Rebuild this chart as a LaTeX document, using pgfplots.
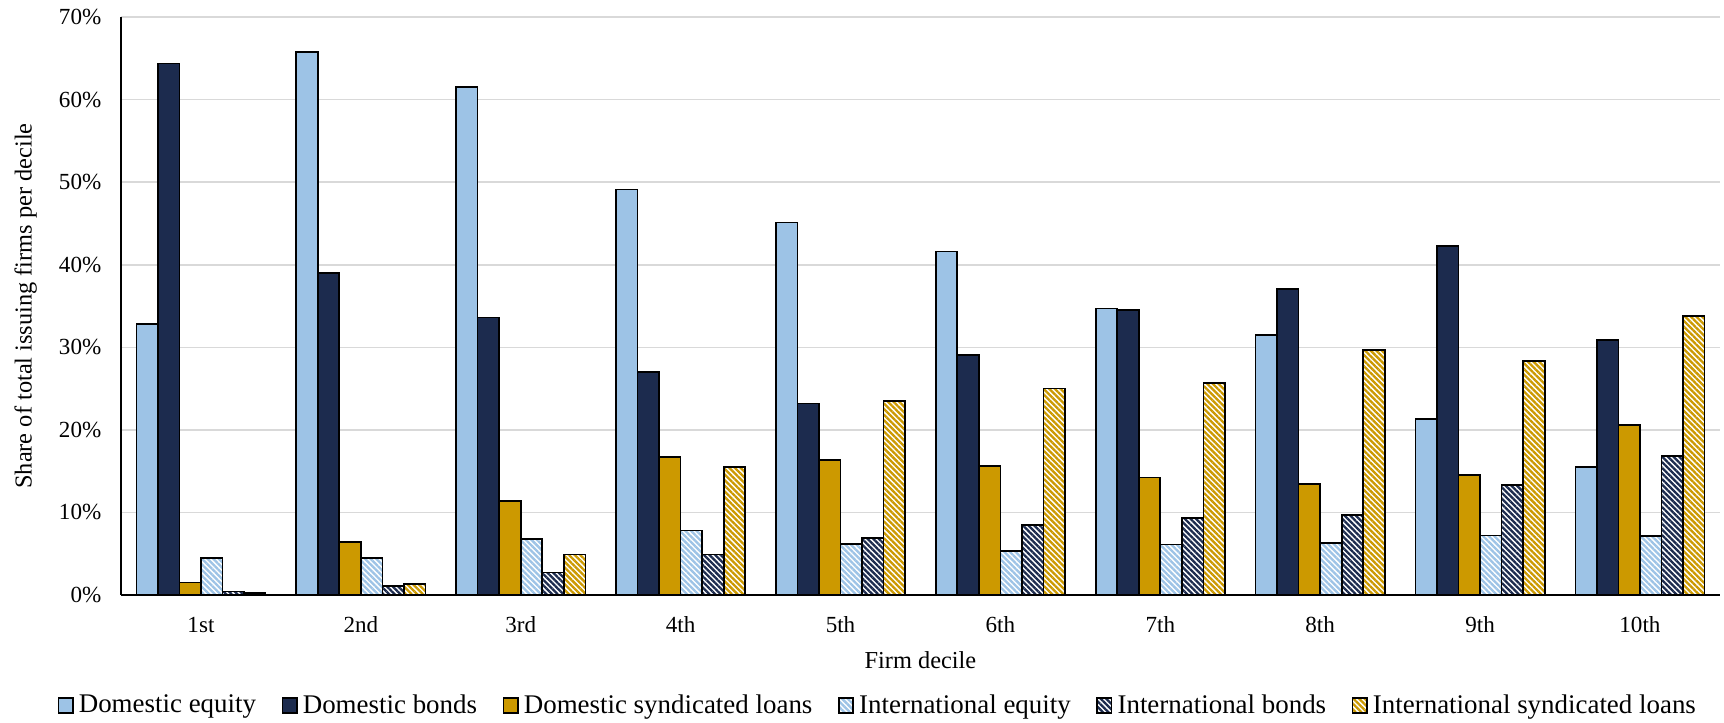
\documentclass[border=0pt]{standalone}
\usepackage{pgfplots}
\pgfplotsset{compat=1.18}
\usepackage{pgfplotstable}
\usepackage{fontspec}
\setmainfont{Liberation Serif}
\usetikzlibrary{patterns.meta,calc}

\definecolor{lblue}{RGB}{157,195,230}
\definecolor{navy}{RGB}{28,43,78}
\definecolor{gold}{RGB}{204,153,0}
\definecolor{gridgray}{RGB}{217,217,217}

\pgfplotstableread{
x de db dsl ie ib isl
1 32.8 64.4 1.5 4.5 0.4 0.2
2 65.8 39.0 6.4 4.5 1.1 1.3
3 61.5 33.6 11.4 6.8 2.7 4.9
4 49.1 27.0 16.7 7.8 4.9 15.5
5 45.1 23.2 16.3 6.2 6.9 23.5
6 41.6 29.1 15.6 5.3 8.5 25.0
7 34.7 34.5 14.2 6.1 9.3 25.7
8 31.5 37.1 13.4 6.3 9.7 29.7
9 21.3 42.3 14.5 7.2 13.3 28.3
10 15.5 30.9 20.6 7.1 16.8 33.8
}\data

\pgfplotsset{
  myleg/.style={legend image code/.code={\draw[##1] (0pt,-2.9pt) rectangle (5.6pt,2.9pt);}},
  hatch/.style={fill=white, postaction={pattern={Lines[angle=-45,distance=1.55pt,line width=0.9pt]}, pattern color=#1}},
}

\begin{document}
\begin{tikzpicture}
\begin{axis}[
  name=ax,
  scale only axis,
  width=623.6pt, height=225.3pt,
  xmin=0.5, xmax=10.5, ymin=0, ymax=70,
  ybar=0pt, bar width=8.4pt,
  axis lines*=left,
  axis line style={black, line width=0.6pt},
  major tick length=0pt,
  ymajorgrids, grid style={gridgray, line width=0.6pt},
  xtick={1,...,10},
  xticklabels={1st,2nd,3rd,4th,5th,6th,7th,8th,9th,10th},
  ytick={0,10,...,70},
  yticklabels={0\%,10\%,20\%,30\%,40\%,50\%,60\%,70\%},
  /pgf/number format/assume math mode=true,
  ticklabel style={font=\fontsize{9}{10}\selectfont},
  yticklabel style={inner sep=0pt, anchor=east, xshift=-7.5pt},
  xticklabel style={inner sep=0pt, anchor=center, yshift=-11.7pt},
  xlabel={Firm decile},
  ylabel={Share of total issuing firms per decile},
  label style={font=\fontsize{9.5}{11}\selectfont},
  xlabel style={at={(axis description cs:0.5,-0.1123)}, anchor=center, inner sep=0pt},
  ylabel style={at={(axis description cs:-0.0597,0.5)}, anchor=center, inner sep=0pt},
  legend style={at={(axis description cs:0.4743,-0.192)}, anchor=center, draw=none,
    font=\fontsize{10.5}{12}\selectfont, legend columns=6,
    nodes={inner xsep=2pt, inner ysep=0pt},
    /tikz/every even column/.append style={column sep=8pt}},
  legend cell align=left,
]
\addplot[draw=black, line width=0.65pt, fill=lblue, myleg] table[x=x,y=de]{\data};
\addplot[draw=black, line width=0.65pt, fill=navy, myleg] table[x=x,y=db]{\data};
\addplot[draw=black, line width=0.65pt, fill=gold, myleg] table[x=x,y=dsl]{\data};
\addplot[draw=black, line width=0.65pt, hatch=lblue, myleg] table[x=x,y=ie]{\data};
\addplot[draw=black, line width=0.65pt, hatch=navy, myleg] table[x=x,y=ib]{\data};
\addplot[draw=black, line width=0.65pt, hatch=gold, myleg] table[x=x,y=isl]{\data};
\legend{Domestic equity, Domestic bonds, Domestic syndicated loans, International equity, International bonds, International syndicated loans}
\end{axis}
\path ($(ax.south west)+(-47.2pt,-49.5pt)$) rectangle ($(ax.north east)+(1.6pt,6.7pt)$);
\end{tikzpicture}
\end{document}
